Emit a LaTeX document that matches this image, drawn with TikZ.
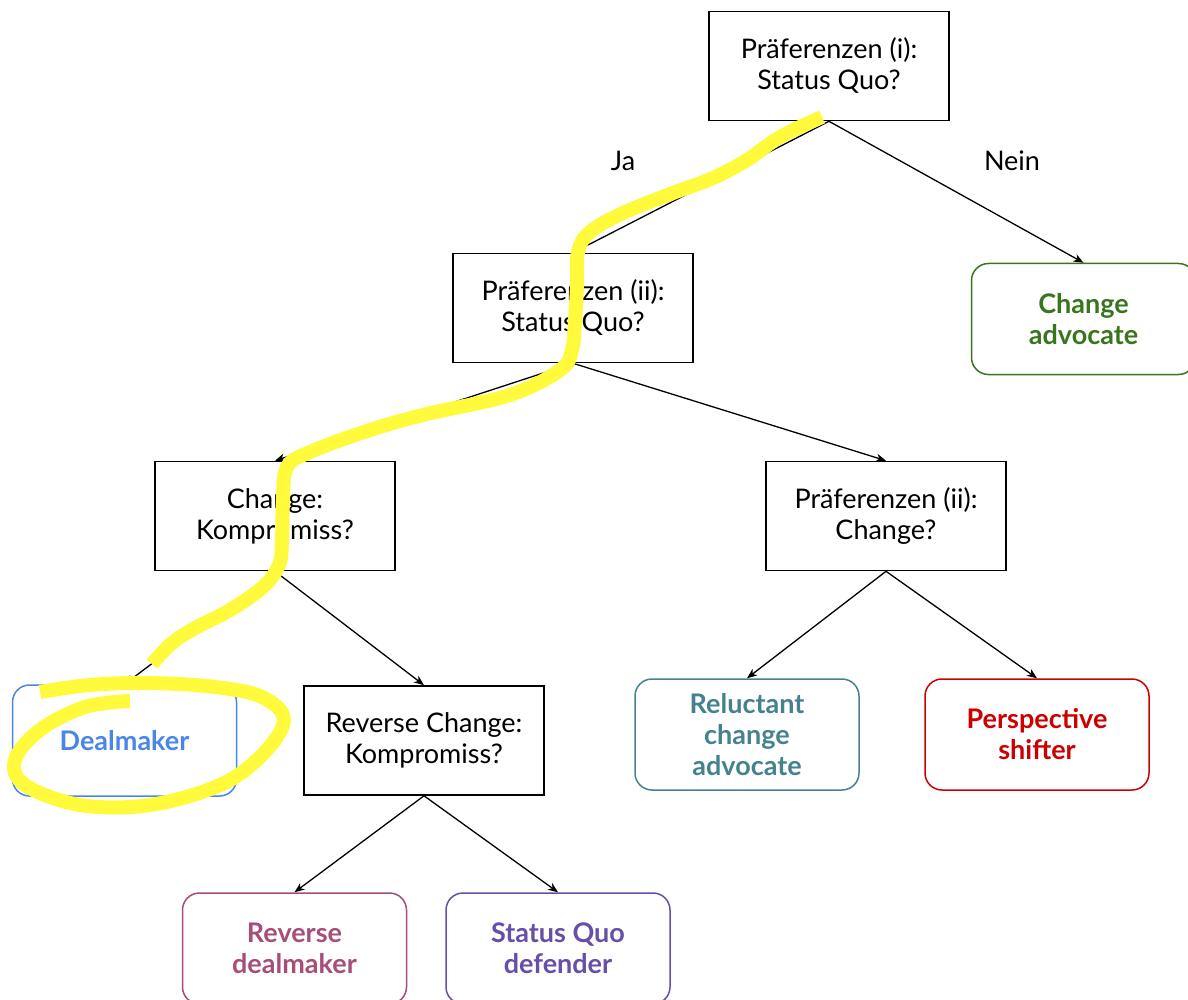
\documentclass[tikz,border=0pt]{standalone}
\usepackage{fontspec}
\setmainfont{Lato}
\usetikzlibrary{arrows.meta}
\definecolor{cgreen}{HTML}{38761D}
\definecolor{cblue}{HTML}{4A86E8}
\definecolor{cteal}{HTML}{45818E}
\definecolor{cred}{HTML}{CC0000}
\definecolor{cpink}{HTML}{A64D79}
\definecolor{cpurple}{HTML}{674EA7}
\definecolor{hl}{RGB}{255,250,60}
\begin{document}
\begin{tikzpicture}[x=1pt,y=-1pt,
  qbox/.style={draw=black,line width=1.6pt,minimum width=240pt,minimum height=109pt,
    align=center,font=\fontsize{27}{31}\selectfont,inner sep=0pt},
  leaf/.style={draw=#1,text=#1,line width=1.5pt,rounded corners=17pt,minimum width=224pt,
    minimum height=111pt,align=center,font=\fontsize{27}{31}\selectfont\bfseries,inner sep=0pt},
  conn/.style={line width=1.3pt,-{Stealth[length=10pt,width=8pt,inset=3pt]}},
  lbl/.style={font=\fontsize{27}{31}\selectfont},
  hlpen/.style={draw=hl,line width=14pt,line join=round,line cap=butt}]
\useasboundingbox (0,0) rectangle (1188,1000);
\node[qbox] (q1) at (829,66) {Präferenzen (i):\\Status Quo?};
\node[qbox] (q2) at (573,308) {Präferenzen (ii):\\Status Quo?};
\node[qbox] (q3) at (275,516) {Change:\\Kompromiss?};
\node[qbox] (q4) at (886,516) {Präferenzen (ii):\\Change?};
\node[qbox] (q5) at (424,740.5) {Reverse Change:\\Kompromiss?};
\node[leaf=cgreen] (l1) at (1083.5,319) {Change\\advocate};
\node[leaf=cblue] (l2) at (124.5,740.5) {Dealmaker};
\node[leaf=cteal] (l3) at (747,734.5) {Reluctant\\change\\advocate};
\node[leaf=cred] (l4) at (1037,734.5) {Perspective\\shifter};
\node[leaf=cpink] (l5) at (294.5,948.5) {Reverse\\dealmaker};
\node[leaf=cpurple] (l6) at (558,948.5) {Status Quo\\defender};
\node[lbl] (ja) at (623,161) {Ja};
\node[lbl] (nein) at (1012,161) {Nein};
\draw[conn] (q1.south) -- (q2.north);
\draw[conn] (q1.south) -- (l1.north);
\draw[conn] (q2.south) -- (q3.north);
\draw[conn] (q2.south) -- (q4.north);
\draw[conn] (q3.south) -- (l2.north);
\draw[conn] (q3.south) -- (q5.north);
\draw[conn] (q4.south) -- (l3.north);
\draw[conn] (q4.south) -- (l4.north);
\draw[conn] (q5.south) -- (l5.north);
\draw[conn] (q5.south) -- (l6.north);
% highlighter strokes
\draw[hlpen] plot[smooth,tension=0.6] coordinates {(822,117) (780,137) (747,160) (713,178) (673,193) (623,213) (590,232) (578,252) (577,285) (575,320) (572,350) (560,370) (510,395) (427,414) (370,430) (310,452) (287,467) (283,500) (282,540) (279,565) (263,587) (230,610) (197,627) (172,643) (152,664)};
\draw[hlpen] plot[smooth,tension=0.6] coordinates {(40,692) (90,685) (150,683) (215,687) (262,697) (284,720) (262,755) (220,785) (150,805) (80,805) (25,785) (15,760) (40,730) (85,707) (130,701)};
\end{tikzpicture}
\end{document}
